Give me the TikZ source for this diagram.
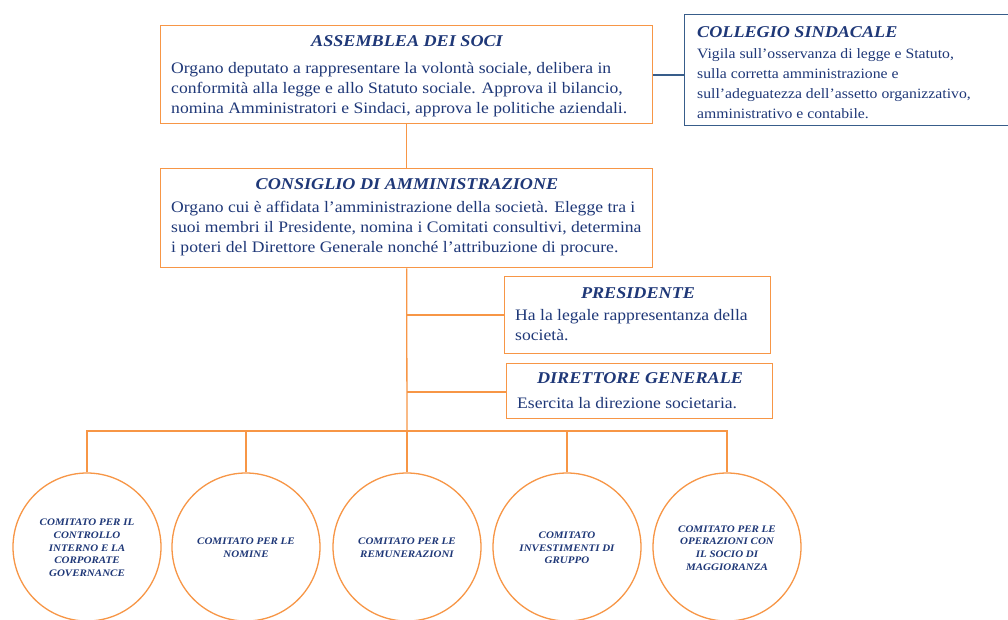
\documentclass[tikz,border=0pt]{standalone}
\usepackage{fontspec}
\setmainfont[FakeStretch=1.1]{Liberation Serif}
\definecolor{org}{RGB}{247,150,70}
\definecolor{txt}{RGB}{31,56,120}
\definecolor{bbl}{RGB}{56,93,138}
\begin{document}
\begin{tikzpicture}[x=1pt,y=-1pt,
  obox/.style={draw=org, line width=1.3pt, fill=white, anchor=north west, inner sep=0pt},
  bbox/.style={draw=bbl, line width=1.3pt, fill=white, anchor=north west, inner sep=0pt},
  conn/.style={draw=org, line width=1.3pt},
  bconn/.style={draw=bbl, line width=1.3pt},
  ttl/.style={text=txt, inner sep=0pt, font=\fontsize{16.5}{18}\selectfont\bfseries\itshape},
  body/.style={text=txt, inner sep=0pt, align=left, anchor=north west, font=\fontsize{16}{20}\selectfont},
  cbody/.style={body, font=\fontsize{14.3}{20}\selectfont},
  circ/.style={circle, draw=org, line width=1.3pt, fill=white, minimum size=148pt, inner sep=0pt},
  ctext/.style={text=txt, align=center, inner sep=0pt, font=\fontsize{10}{12.7}\selectfont\bfseries\itshape}
]
\useasboundingbox (0,0) rectangle (1008,619);
\fill[white] (0,0) rectangle (1008,619);

% boxes
\node[obox, minimum width=492pt, minimum height=98pt] (ass) at (160,25) {};
\node[bbox, minimum width=340pt, minimum height=111pt] (col) at (684,14) {};
\node[obox, minimum width=492pt, minimum height=99pt] (cda) at (160,168) {};
\node[obox, minimum width=266pt, minimum height=77pt] (pre) at (504,276) {};
\node[obox, minimum width=266pt, minimum height=55pt] (dir) at (506,363) {};

% texts
\node[ttl] (assT) at (407,41) {ASSEMBLEA DEI SOCI};
\node[body] (assB) at (171,62) {Organo deputato a rappresentare la volontà sociale, delibera in\\conformità alla legge e allo Statuto sociale. Approva il bilancio,\\nomina Amministratori e Sindaci, approva le politiche aziendali.};

\node[ttl, anchor=west] (colT) at (697,32) {COLLEGIO SINDACALE};
\node[cbody] (colB) at (697,48.5) {Vigila sull’osservanza di legge e Statuto,\\sulla corretta amministrazione e\\sull’adeguatezza dell’assetto organizzativo,\\amministrativo e contabile.};

\node[ttl] (cdaT) at (407,184) {CONSIGLIO DI AMMINISTRAZIONE};
\node[body] (cdaB) at (171,201.5) {Organo cui è affidata l’amministrazione della società. Elegge tra i\\suoi membri il Presidente, nomina i Comitati consultivi, determina\\i poteri del Direttore Generale nonché l’attribuzione di procure.};

\node[ttl] (preT) at (638,293) {PRESIDENTE};
\node[body] (preB) at (515,309.5) {Ha la legale rappresentanza della\\società.};

\node[ttl] (dirT) at (640,378) {DIRETTORE GENERALE};
\node[body] (dirB) at (517,397.5) {Esercita la direzione societaria.};

% bus coordinates
\coordinate (bus) at (407,431);
\coordinate (jp) at (407,315);
\coordinate (jd) at (407,392);

% circles
\node[circ] (c1) at (87,547) {};
\node[circ] (c2) at (246,547) {};
\node[circ] (c3) at (407,547) {};
\node[circ] (c4) at (567,547) {};
\node[circ] (c5) at (727,547) {};
\node[ctext] (t1) at (87,548) {COMITATO PER IL\\CONTROLLO\\INTERNO E LA\\CORPORATE\\GOVERNANCE};
\node[ctext] (t2) at (246,548) {COMITATO PER LE\\NOMINE};
\node[ctext] (t3) at (407,548) {COMITATO PER LE\\REMUNERAZIONI};
\node[ctext] (t4) at (567,548) {COMITATO\\INVESTIMENTI DI\\GRUPPO};
\node[ctext] (t5) at (727,548) {COMITATO PER LE\\OPERAZIONI CON\\IL SOCIO DI\\MAGGIORANZA};

% connectors
\draw[bconn] (ass.east |- 0,75) -- (col.west |- 0,75);
\draw[conn] (ass.south) -- (cda.north);
\draw[conn] (cda.south) -- (bus);
\draw[conn] (jp) -- (pre.west |- jp);
\draw[conn] (jd) -- (dir.west |- jd);
\draw[conn] (c1.north) -- (c1.north |- bus) -- (c5.north |- bus) -- (c5.north);
\draw[conn] (c2.north) -- (c2.north |- bus);
\draw[conn] (bus) -- (c3.north);
\draw[conn] (c4.north) -- (c4.north |- bus);
\end{tikzpicture}
\end{document}
